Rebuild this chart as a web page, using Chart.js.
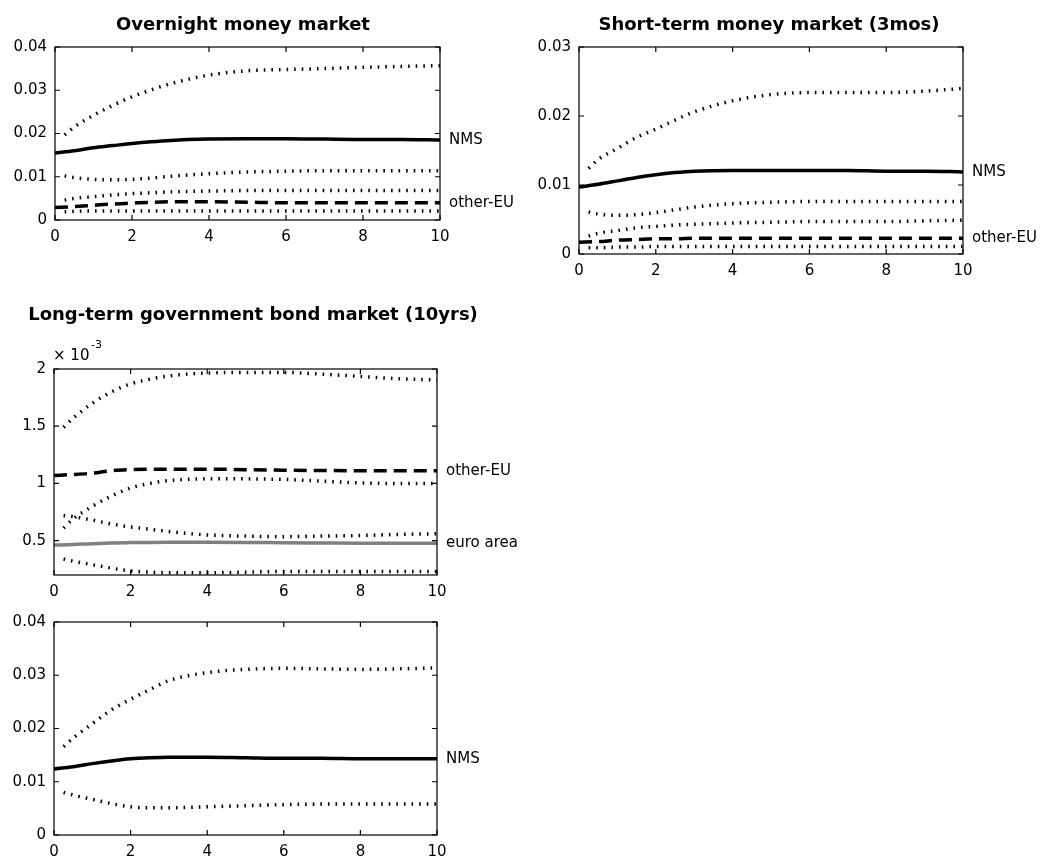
<!DOCTYPE html>
<html>
<head>
<meta charset="utf-8">
<script src="https://cdn.jsdelivr.net/npm/chart.js@4.4.1/dist/chart.umd.min.js"></script>
<style>
    body { margin: 0; background: #fff; }
    #wrap { position: relative; width: 1043px; height: 859px; background: #fff; }
    canvas { position: absolute; }
</style>
</head>
<body>
<div id="wrap">
    <canvas id="overnight" width="520" height="260" style="left:0;top:0"></canvas>
    <canvas id="shortTerm" width="523" height="290" style="left:520px;top:0"></canvas>
    <canvas id="longTermEU" width="520" height="315" style="left:0;top:290px"></canvas>
    <canvas id="longTermNMS" width="520" height="254" style="left:0;top:605px"></canvas>
</div>
<script>
// horizon (years) for the mean responses and for the error bands
const steps = [0, 0.5, 1, 1.5, 2, 2.5, 3, 4, 5, 6, 7, 8, 9, 10];
const bandSteps = [0.25, 0.5, 1, 1.5, 2, 2.5, 3, 4, 5, 6, 7, 8, 9, 10];
const xTicks = [0, 2, 4, 6, 8, 10];

// Overnight money market
const onNmsUp = [0.0197, 0.0215, 0.0242, 0.0265, 0.0285, 0.0301, 0.0315, 0.0335, 0.0345, 0.0348, 0.0350, 0.0353, 0.0355, 0.0357];
const onNms = [0.0155, 0.0160, 0.0167, 0.0172, 0.0177, 0.0181, 0.0184, 0.0187, 0.0188, 0.0188, 0.0187, 0.0186, 0.0186, 0.0185];
const onNmsLo = [0.0102, 0.0098, 0.0094, 0.0093, 0.0094, 0.0097, 0.0101, 0.0107, 0.0111, 0.0113, 0.0114, 0.0114, 0.0114, 0.0114];
const onEuUp = [0.0046, 0.0050, 0.0054, 0.0058, 0.0061, 0.0063, 0.0065, 0.0067, 0.0068, 0.0068, 0.0068, 0.0068, 0.0068, 0.0068];
const onEu = [0.0029, 0.0031, 0.0034, 0.0037, 0.0039, 0.0041, 0.0042, 0.0042, 0.0041, 0.0040, 0.0040, 0.0040, 0.0040, 0.0040];
const onEuLo = [0.0019, 0.0020, 0.0021, 0.0021, 0.0021, 0.0021, 0.0021, 0.0021, 0.0021, 0.0021, 0.0021, 0.0021, 0.0021, 0.0021];
const onTicks = [0, 0.01, 0.02, 0.03, 0.04];

// Short-term money market (3mos)
const stNmsUp = [0.0124, 0.0137, 0.0153, 0.0169, 0.0181, 0.0194, 0.0206, 0.0222, 0.0231, 0.0234, 0.0234, 0.0234, 0.0236, 0.0240];
const stNms = [0.0097, 0.0101, 0.0106, 0.0111, 0.0115, 0.0118, 0.0120, 0.0121, 0.0121, 0.0121, 0.0121, 0.0120, 0.0120, 0.0119];
const stNmsLo = [0.0061, 0.0058, 0.0056, 0.0057, 0.0060, 0.0064, 0.0068, 0.0073, 0.0075, 0.0076, 0.0076, 0.0076, 0.0076, 0.0076];
const stEuUp = [0.0026, 0.0030, 0.0034, 0.0038, 0.0040, 0.0042, 0.0043, 0.0045, 0.0046, 0.0047, 0.0047, 0.0047, 0.0048, 0.0049];
const stEu = [0.0017, 0.0018, 0.0020, 0.0021, 0.0022, 0.0022, 0.0023, 0.0023, 0.0023, 0.0023, 0.0023, 0.0023, 0.0023, 0.0023];
const stEuLo = [0.0009, 0.0009, 0.0010, 0.0010, 0.0011, 0.0011, 0.0011, 0.0011, 0.0011, 0.0011, 0.0011, 0.0011, 0.0011, 0.0011];
const stTicks = [0, 0.01, 0.02, 0.03];

// Long-term government bond market (10yrs), other-EU and euro area
const ltEuUp = [0.00149, 0.00157, 0.00170, 0.00180, 0.00187, 0.00191, 0.00194, 0.001965, 0.00197, 0.00197, 0.001955, 0.001935, 0.001915, 0.001905];
const ltEu = [0.00107, 0.001078, 0.00109, 0.001112, 0.00112, 0.001124, 0.001125, 0.001125, 0.00112, 0.001116, 0.001113, 0.001111, 0.00111, 0.00111];
const ltEuLo = [0.00061, 0.00069, 0.00080, 0.00089, 0.00096, 0.00100, 0.001025, 0.00104, 0.00104, 0.001035, 0.00102, 0.001005, 0.00100, 0.00100];
const ltEaUp = [0.00072, 0.00071, 0.00068, 0.000645, 0.00062, 0.00060, 0.00058, 0.00055, 0.00054, 0.000535, 0.00054, 0.000545, 0.000555, 0.00056];
const ltEa = [0.000462, 0.000466, 0.000474, 0.00048, 0.000483, 0.000485, 0.000486, 0.000486, 0.000485, 0.000482, 0.00048, 0.000478, 0.000478, 0.000478];
const ltEaLo = [0.00034, 0.00032, 0.00029, 0.00026, 0.000235, 0.000225, 0.00022, 0.00022, 0.000225, 0.00023, 0.00023, 0.00023, 0.00023, 0.00023];
const ltTicks = [0.0005, 0.001, 0.0015, 0.002];

// Long-term government bond market (10yrs), NMS
const lnNmsUp = [0.0166, 0.0182, 0.0209, 0.0235, 0.0255, 0.0273, 0.0290, 0.0305, 0.0311, 0.0313, 0.0312, 0.0311, 0.0312, 0.0314];
const lnNms = [0.0124, 0.0128, 0.0134, 0.0139, 0.0143, 0.0145, 0.0146, 0.0146, 0.0145, 0.0144, 0.0144, 0.0143, 0.0143, 0.0143];
const lnNmsLo = [0.0080, 0.0075, 0.0067, 0.0059, 0.0053, 0.0051, 0.0051, 0.0053, 0.0055, 0.0057, 0.0058, 0.0058, 0.0058, 0.0058];
const lnTicks = [0, 0.01, 0.02, 0.03, 0.04];

const FONT = '"DejaVu Sans", Arial, sans-serif';

function pts(xs, ys) {
    return xs.map((x, i) => ({x: x, y: ys[i]}));
}
function dotted(ys) {
    return {data: pts(bandSteps, ys), borderColor: '#000', borderWidth: 3.5, borderDash: [1.6, 6]};
}
function dashed(ys) {
    return {data: pts(steps, ys), borderColor: '#000', borderWidth: 3.5, borderDash: [13, 7]};
}
function solid(ys, color) {
    return {data: pts(steps, ys), borderColor: color || '#000', borderWidth: 3.5};
}

// draws the matlab style box, inward ticks, titles and line labels
const matlabBox = {
    id: 'matlabBox',
    afterDatasetsDraw(chart, args, opts) {
        const ctx = chart.ctx;
        const a = chart.chartArea;
        const sx = chart.scales.x, sy = chart.scales.y;
        ctx.save();
        ctx.strokeStyle = '#000';
        ctx.lineWidth = 1.2;
        ctx.strokeRect(a.left, a.top, a.right - a.left, a.bottom - a.top);
        ctx.beginPath();
        sx.ticks.forEach(t => {
            const px = sx.getPixelForValue(t.value);
            ctx.moveTo(px, a.bottom); ctx.lineTo(px, a.bottom - 5);
            ctx.moveTo(px, a.top); ctx.lineTo(px, a.top + 5);
        });
        sy.ticks.forEach(t => {
            const py = sy.getPixelForValue(t.value);
            ctx.moveTo(a.left, py); ctx.lineTo(a.left + 5, py);
            ctx.moveTo(a.right, py); ctx.lineTo(a.right - 5, py);
        });
        ctx.stroke();

        ctx.fillStyle = '#000';
        ctx.textBaseline = 'middle';
        ctx.textAlign = 'left';
        ctx.font = '15px ' + FONT;
        (opts.labels || []).forEach(l => {
            const d = chart.data.datasets[l.dataset].data;
            ctx.fillText(l.text, a.right + 9, sy.getPixelForValue(d[d.length - 1].y));
        });

        if (opts.title) {
            ctx.textBaseline = 'alphabetic';
            ctx.textAlign = 'center';
            ctx.font = 'bold 18px ' + FONT;
            ctx.fillText(opts.title, opts.titleX, opts.titleY);
        }
        if (opts.exponent) {
            ctx.textBaseline = 'alphabetic';
            ctx.textAlign = 'left';
            ctx.font = '15px ' + FONT;
            ctx.fillText('\u00d7 10', a.left - 1, a.top - 9);
            ctx.font = '11px ' + FONT;
            ctx.fillText(opts.exponent, a.left + 37, a.top - 21);
        }
        ctx.restore();
    }
};

function makePanel(id, cfg) {
    const ctx = document.getElementById(id);
    return new Chart(ctx, {
        type: 'line',
        data: {datasets: cfg.datasets},
        plugins: [matlabBox],
        options: {
            responsive: false,
            animation: false,
            events: [],
            elements: {
                point: {radius: 0},
                line: {tension: 0.3, cubicInterpolationMode: 'monotone', borderCapStyle: 'butt'}
            },
            layout: {padding: {left: 0, top: cfg.top, right: cfg.right, bottom: 0}},
            scales: {
                x: {
                    type: 'linear',
                    min: 0,
                    max: 10,
                    grid: {display: false, drawTicks: false},
                    border: {display: false},
                    afterBuildTicks: s => { s.ticks = xTicks.map(v => ({value: v})); },
                    afterFit: s => { s.height = cfg.bottom; },
                    ticks: {color: '#000', padding: 8, maxRotation: 0, font: {family: FONT, size: 15}}
                },
                y: {
                    min: cfg.min,
                    max: cfg.max,
                    grid: {display: false, drawTicks: false},
                    border: {display: false},
                    afterBuildTicks: s => { s.ticks = cfg.ticks.map(v => ({value: v})); },
                    afterFit: s => { s.width = cfg.left; },
                    ticks: {
                        color: '#000',
                        padding: 8,
                        font: {family: FONT, size: 15},
                        callback: v => String(parseFloat((v * (cfg.scale || 1)).toFixed(4)))
                    }
                }
            },
            plugins: {
                legend: {display: false},
                tooltip: {enabled: false},
                title: {display: false},
                matlabBox: cfg.box
            }
        }
    });
}

makePanel('overnight', {
    left: 55, right: 80, top: 47, bottom: 40,
    min: 0, max: 0.04, ticks: onTicks,
    datasets: [dotted(onNmsUp), solid(onNms), dotted(onNmsLo), dotted(onEuUp), dashed(onEu), dotted(onEuLo)],
    box: {title: 'Overnight money market', titleX: 243, titleY: 30,
        labels: [{dataset: 1, text: 'NMS'}, {dataset: 4, text: 'other-EU'}]}
});

makePanel('shortTerm', {
    left: 59, right: 80, top: 47, bottom: 36,
    min: 0, max: 0.03, ticks: stTicks,
    datasets: [dotted(stNmsUp), solid(stNms), dotted(stNmsLo), dotted(stEuUp), dashed(stEu), dotted(stEuLo)],
    box: {title: 'Short-term money market (3mos)', titleX: 249, titleY: 30,
        labels: [{dataset: 1, text: 'NMS'}, {dataset: 4, text: 'other-EU'}]}
});

makePanel('longTermEU', {
    left: 54, right: 83, top: 79, bottom: 30,
    min: 0.0002, max: 0.002, ticks: ltTicks, scale: 1000,
    datasets: [dotted(ltEuUp), dashed(ltEu), dotted(ltEuLo), dotted(ltEaUp), solid(ltEa, '#808080'), dotted(ltEaLo)],
    box: {title: 'Long-term government bond market (10yrs)', titleX: 253, titleY: 30, exponent: '-3',
        labels: [{dataset: 1, text: 'other-EU'}, {dataset: 4, text: 'euro area'}]}
});

makePanel('longTermNMS', {
    left: 54, right: 83, top: 13, bottom: 24,
    min: 0, max: 0.04, ticks: lnTicks,
    datasets: [dotted(lnNmsUp), solid(lnNms), dotted(lnNmsLo)],
    box: {labels: [{dataset: 1, text: 'NMS'}]}
});
</script>
</body>
</html>
